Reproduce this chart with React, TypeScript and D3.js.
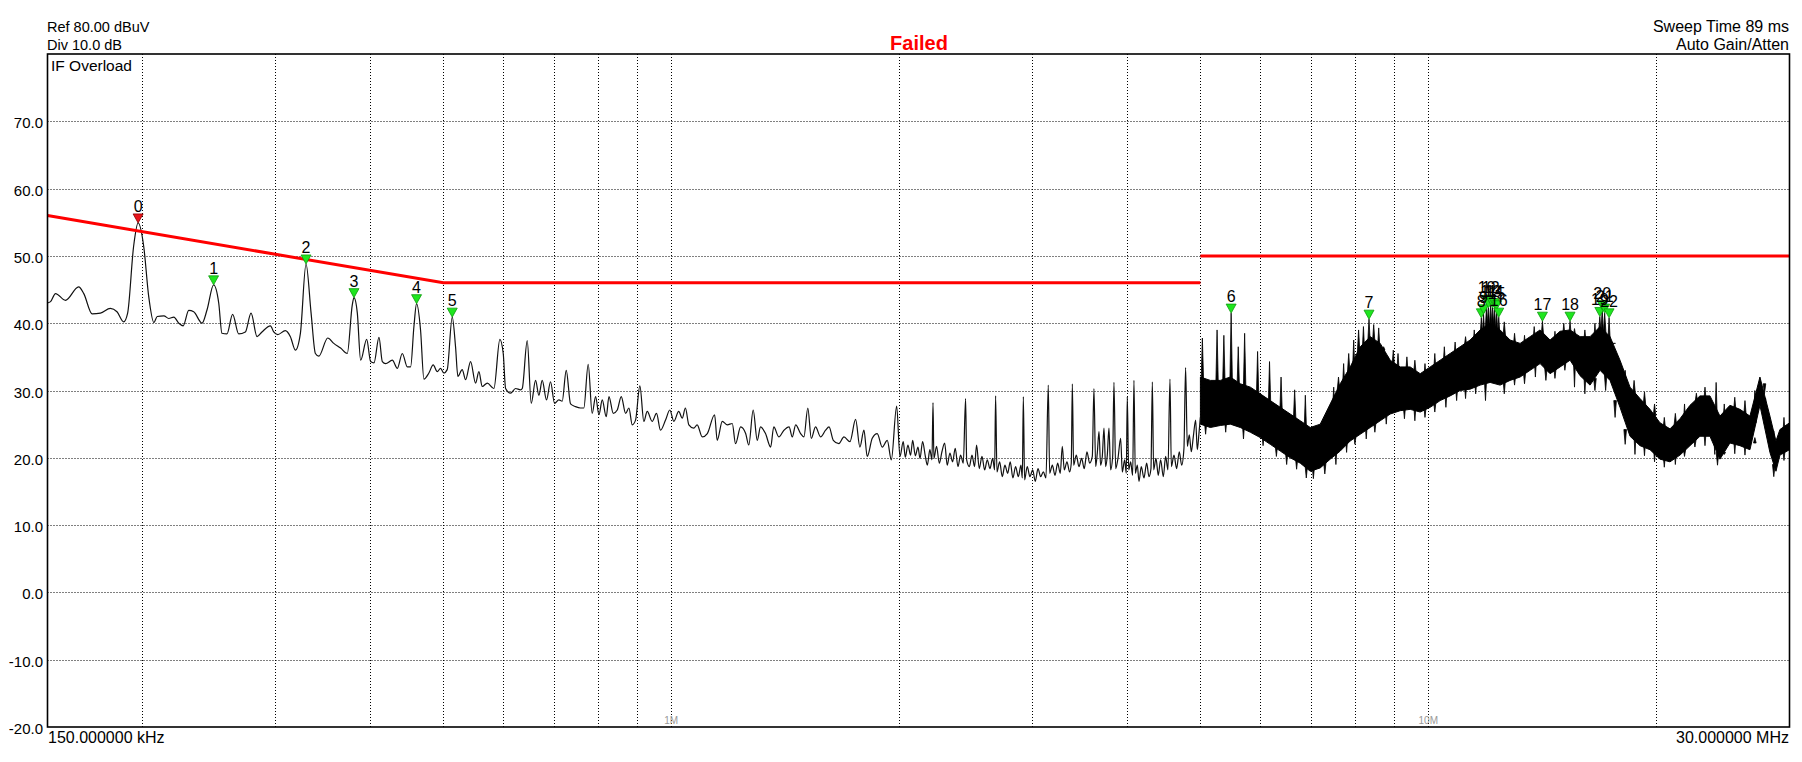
import React, { useRef, useEffect } from "react";
import * as d3 from "d3";

// Trace below 5 MHz: [MHz, dBuV]
const traceLow: [number, number][] = [
  [0.150, 43.0], [0.1514, 43.2], [0.1537, 44.4], [0.1584, 43.4], [0.1649, 45.4], [0.1675, 44.4],
  [0.1718, 41.4], [0.1762, 41.5], [0.1816, 42.2], [0.1853, 41.7], [0.1891, 40.2], [0.1914, 41.5],
  [0.1949, 51.4], [0.1976, 54.9], [0.2010, 51.4], [0.2041, 43.9], [0.2073, 40.1], [0.2094, 41.0],
  [0.2137, 41.1], [0.2169, 40.7], [0.2203, 40.9], [0.2236, 40.0], [0.2266, 39.6], [0.2305, 41.9],
  [0.2340, 41.7], [0.2400, 40.0], [0.2437, 42.0], [0.2486, 45.7], [0.2525, 43.0], [0.2550, 38.5],
  [0.2589, 38.4], [0.2634, 41.3], [0.2683, 38.4], [0.2738, 38.7], [0.2786, 41.5], [0.2837, 38.0],
  [0.2880, 38.7], [0.2955, 39.6], [0.2985, 38.7], [0.3021, 38.3], [0.3092, 38.9], [0.3140, 38.0],
  [0.3188, 36.0], [0.3237, 38.5], [0.3293, 48.8], [0.3344, 41.5], [0.3388, 35.5], [0.3423, 35.1],
  [0.3518, 37.8], [0.3583, 37.0], [0.3658, 36.3], [0.3733, 35.5], [0.3790, 42.7], [0.3810, 43.8],
  [0.3849, 41.5], [0.3888, 34.5], [0.3960, 37.6], [0.4008, 34.3], [0.4049, 34.1], [0.4111, 37.9],
  [0.4153, 34.3], [0.4195, 34.0], [0.4281, 34.5], [0.4347, 33.3], [0.4413, 35.5], [0.4481, 33.5],
  [0.4526, 33.5], [0.4572, 39.5], [0.4609, 42.9], [0.4665, 39.0], [0.4713, 31.7], [0.4785, 32.6],
  [0.4848, 33.8], [0.4908, 32.8], [0.4958, 33.3], [0.5008, 32.6], [0.5059, 33.1], [0.5137, 40.9],
  [0.5189, 36.5], [0.5226, 32.1], [0.5295, 33.1], [0.5350, 31.6], [0.5432, 34.3], [0.5515, 31.1],
  [0.5571, 32.8], [0.5628, 30.6], [0.5715, 31.1], [0.5831, 30.3], [0.5938, 37.6], [0.5999, 35.5],
  [0.6042, 30.3], [0.6134, 29.6], [0.6228, 30.3], [0.6324, 30.1], [0.6356, 30.3], [0.6453, 37.4],
  [0.6532, 28.1], [0.6619, 31.5], [0.6686, 29.3], [0.6754, 31.5], [0.6843, 28.6], [0.6927, 31.3],
  [0.7012, 28.1], [0.7105, 28.6], [0.7177, 28.4], [0.7266, 33.0], [0.7362, 28.0], [0.7474, 27.6],
  [0.7588, 27.4], [0.7665, 27.4], [0.7768, 33.9], [0.7862, 26.6], [0.7945, 29.1], [0.8026, 26.4],
  [0.8107, 28.6], [0.8206, 26.1], [0.8274, 29.1], [0.8383, 26.6], [0.8486, 27.1], [0.8590, 29.1],
  [0.8704, 26.6], [0.8792, 27.4], [0.8881, 24.9], [0.8971, 25.6], [0.9090, 30.7], [0.9201, 25.4],
  [0.9295, 26.9], [0.9437, 25.4], [0.9562, 26.6], [0.9679, 24.1], [0.9828, 25.6], [0.9957, 27.1],
  [1.008, 25.4], [1.023, 26.9], [1.034, 25.9], [1.044, 27.4], [1.055, 24.9], [1.071, 24.4],
  [1.082, 24.9], [1.099, 23.1], [1.116, 23.6], [1.141, 26.4], [1.150, 22.6], [1.168, 25.4],
  [1.186, 24.9], [1.204, 25.1], [1.216, 22.1], [1.235, 24.6], [1.254, 23.6], [1.266, 21.9],
  [1.283, 27.1], [1.299, 22.6], [1.312, 24.6], [1.332, 23.6], [1.353, 21.6], [1.366, 24.6],
  [1.387, 23.1], [1.409, 24.1], [1.431, 24.6], [1.445, 23.1], [1.460, 24.9], [1.482, 23.6],
  [1.497, 23.1], [1.515, 27.4], [1.531, 22.9], [1.551, 24.6], [1.575, 23.1], [1.599, 24.1],
  [1.616, 24.6], [1.637, 22.6], [1.665, 22.1], [1.691, 23.1], [1.722, 22.4], [1.752, 25.7],
  [1.775, 21.6], [1.797, 24.1], [1.815, 20.2], [1.843, 22.9], [1.871, 23.6], [1.900, 21.6],
  [1.929, 22.6], [1.953, 19.7], [1.985, 27.7], [2.005, 20.2], [2.025, 22.4], [2.038, 20.1],
  [2.054, 21.9], [2.071, 20.4], [2.084, 22.6], [2.101, 20.3], [2.118, 21.6], [2.131, 19.9],
  [2.148, 22.4], [2.166, 20.2], [2.179, 18.9], [2.196, 21.2], [2.210, 19.7], [2.217, 28.2],
  [2.223, 19.9], [2.241, 21.7], [2.260, 19.2], [2.278, 20.9], [2.297, 22.2], [2.315, 18.9],
  [2.334, 20.7], [2.353, 19.4], [2.372, 21.4], [2.392, 18.7], [2.411, 20.4], [2.431, 19.2],
  [2.448, 28.8], [2.456, 19.7], [2.476, 18.7], [2.496, 20.4], [2.516, 18.7], [2.531, 21.9],
  [2.552, 18.4], [2.573, 20.2], [2.594, 18.2], [2.615, 19.7], [2.636, 18.4], [2.658, 19.9],
  [2.674, 18.2], [2.682, 29.2], [2.693, 17.9], [2.715, 19.4], [2.737, 17.2], [2.759, 18.9],
  [2.782, 17.7], [2.804, 19.4], [2.827, 17.0], [2.850, 18.7], [2.874, 17.2], [2.897, 18.9],
  [2.909, 17.0], [2.918, 29.1], [2.929, 16.7], [2.953, 18.7], [2.977, 17.2], [3.002, 18.2],
  [3.026, 16.5], [3.051, 18.4], [3.076, 17.2], [3.101, 17.9], [3.126, 17.0], [3.148, 30.8],
  [3.161, 17.7], [3.187, 18.9], [3.213, 17.4], [3.239, 19.2], [3.265, 17.7], [3.285, 21.7],
  [3.305, 18.2], [3.332, 19.4], [3.359, 17.9], [3.376, 19.2], [3.387, 31.0], [3.400, 18.9],
  [3.428, 20.4], [3.456, 18.7], [3.484, 19.9], [3.512, 18.4], [3.541, 20.9], [3.570, 19.2],
  [3.599, 20.2], [3.617, 30.3], [3.636, 18.7], [3.654, 20.7], [3.673, 23.9], [3.691, 18.9],
  [3.710, 20.2], [3.729, 24.4], [3.748, 18.7], [3.767, 20.4], [3.786, 24.4], [3.805, 18.2],
  [3.829, 20.2], [3.844, 31.2], [3.864, 18.4], [3.891, 19.9], [3.923, 22.9], [3.943, 17.9],
  [3.971, 19.7], [3.991, 17.7], [4.003, 29.1], [4.020, 18.2], [4.044, 19.4], [4.069, 17.4],
  [4.085, 31.5], [4.102, 17.7], [4.127, 18.9], [4.148, 16.5], [4.177, 18.7], [4.211, 17.0],
  [4.246, 19.2], [4.276, 17.2], [4.302, 18.4], [4.320, 31.3], [4.337, 18.2], [4.368, 19.9],
  [4.399, 17.4], [4.430, 19.7], [4.467, 17.2], [4.498, 20.2], [4.530, 18.2], [4.558, 31.7],
  [4.577, 18.7], [4.614, 20.4], [4.651, 18.4], [4.689, 20.9], [4.723, 18.9], [4.756, 21.4],
  [4.780, 33.4], [4.805, 21.7], [4.834, 23.4], [4.864, 20.9], [4.893, 23.1], [4.928, 25.6],
  [4.953, 21.2], [4.978, 23.6], [5.0, 26.0],
];

// Dense part above 5 MHz: core of the band the trace fills
const bandFreq = [
  5.0, 5.153, 5.312, 5.476, 5.645, 5.82, 5.999, 6.184, 6.375, 6.572, 6.775, 6.984, 7.199, 7.421,
  7.65, 7.886, 8.13, 8.381, 8.639, 8.906, 9.181, 9.464, 9.756, 10.057, 10.367, 10.687, 11.017,
  11.357, 11.708, 12.069, 12.441, 12.825, 13.221, 13.629, 14.05, 14.483, 14.93, 15.391, 15.866,
  16.355, 16.86, 17.38, 17.917, 18.47, 19.04, 19.628, 20.233, 20.858, 21.501, 22.165, 22.849,
  23.554, 24.281, 25.03, 25.803, 26.599, 27.42, 28.266, 28.79, 29.139, 30.0,
];
const bandTop = [
  32.0, 31.5, 31.5, 32.0, 31.0, 30.5, 29.5, 28.5, 27.5, 26.5, 25.5, 24.5, 25.0, 28.0,
  31.0, 33.5, 36.5, 38.0, 37.0, 34.5, 33.5, 33.5, 32.5, 33.5, 34.5, 35.5, 36.5,
  37.5, 39.0, 40.0, 39.0, 37.5, 37.0, 38.0, 39.0, 37.5, 38.8, 39.0, 38.0,
  38.0, 39.5, 38.0, 34.5, 30.5, 28.8, 27.2, 25.2, 24.3, 25.8, 27.8, 29.2,
  29.2, 26.2, 27.8, 27.2, 26.2, 32.0, 26.2, 22.5, 24.2, 25.2,
];
const bandBottom = [
  25.0, 24.5, 24.8, 25.0, 24.5, 23.8, 23.0, 22.0, 21.0, 20.0, 19.2, 18.0, 18.5, 19.8,
  21.0, 22.5, 23.5, 24.5, 25.5, 26.5, 27.0, 27.2, 26.8, 27.5, 28.5, 29.2, 30.0,
  30.2, 30.8, 31.2, 30.8, 31.5, 32.0, 33.0, 34.0, 32.5, 33.5, 34.5, 32.2,
  30.8, 33.0, 31.5, 27.5, 23.2, 21.8, 21.2, 19.8, 19.4, 20.4, 21.8, 23.2,
  23.2, 19.8, 22.2, 21.8, 21.2, 27.8, 20.8, 18.0, 20.4, 21.2,
];

// Peaks standing out of the band
const spikeFreq = [
  5.03, 5.26, 5.37, 5.49, 5.61, 5.72, 5.95, 6.17, 6.39, 6.66, 6.88, 7.5, 7.61, 7.73, 7.85, 7.97,
  8.09, 8.21, 8.35, 8.47, 8.6, 8.73, 8.86, 8.99, 9.12, 9.37, 9.6, 9.9, 10.2, 10.5, 10.85, 11.2,
  11.5, 11.75, 11.83, 11.94, 12.01, 12.09, 12.16, 12.23, 12.31, 12.39, 12.6, 13.0, 13.4, 13.8,
  14.15, 14.7, 15.1, 15.39, 15.6, 16.1, 16.6, 16.85, 16.97, 17.1, 17.33, 17.6, 18.2, 18.7, 19.3,
  19.9, 20.5, 21.2, 21.8, 22.6, 23.2, 24.0, 24.6, 25.4, 26.2, 27.0, 27.8, 28.6, 29.5,
];
const spikeLevel = [
  37.8, 39.0, 38.2, 41.5, 36.5, 38.5, 35.8, 34.3, 32.0, 30.1, 29.3, 30.5, 32.0, 34.0, 35.5, 37.5,
  39.0, 39.5, 40.6, 39.8, 39.3, 36.5, 35.0, 36.0, 35.5, 35.0, 34.5, 34.0, 35.5, 36.5, 37.2, 38.0,
  39.0, 40.8, 41.4, 42.8, 42.3, 42.8, 42.3, 42.3, 42.0, 40.9, 40.2, 38.5, 38.2, 39.5,
  40.3, 38.8, 40.0, 40.3, 39.2, 39.0, 40.0, 41.0, 42.0, 41.5, 40.8, 37.0, 33.0, 31.5, 29.8,
  28.0, 26.0, 26.6, 28.0, 29.6, 30.5, 31.2, 28.0, 29.0, 28.5, 30.0, 29.5, 24.0, 26.0,
];

// Troughs dropping below the band
const dipFreq = [
  5.08, 5.4, 5.7, 6.05, 6.3, 6.5, 6.7, 6.9, 7.05, 7.3, 7.55, 7.8, 8.0, 8.28, 8.5, 8.8, 9.3, 9.6,
  9.9, 10.2, 10.55, 10.9, 11.2, 11.55, 11.9, 12.6, 13.0, 13.4, 13.85, 14.3, 14.7, 15.15, 15.6,
  16.1, 16.6, 17.15, 17.65, 18.2, 18.75, 19.3, 19.9, 20.5, 21.2, 21.8, 22.5, 23.2, 23.9, 24.1,
  24.6, 25.4, 26.2, 27.0, 27.8, 28.6, 29.5,
];
const dipLevel = [
  23.5, 23.8, 22.8, 21.8, 20.2, 19.0, 18.3, 17.0, 16.9, 17.6, 19.0, 20.8, 22.0, 22.8, 23.8, 25.0,
  25.8, 25.5, 26.0, 26.8, 27.5, 28.5, 28.8, 29.5, 28.5, 29.5, 30.8, 31.0, 32.0, 31.5, 31.8, 33.0,
  30.5, 29.5, 30.0, 30.0, 26.0, 22.0, 20.5, 20.3, 19.4, 18.6, 19.0, 20.2, 21.6, 21.8, 20.5, 18.9,
  20.5, 20.6, 20.4, 23.0, 25.0, 17.2, 19.6,
];

// Limit line (two pieces)
const limitA: [number, number][] = [[0.15, 56], [0.5, 46], [5, 46]];
const limitB: [number, number][] = [[5, 50], [30, 50]];

// Markers
const markerId = [0, 1, 2, 3, 4, 5, 6, 7, 8, 9, 10, 11, 12, 13, 14, 15, 16, 17, 18, 19, 20, 21, 22];
const markerFreq = [
  0.1976, 0.2486, 0.3293, 0.381, 0.4609, 0.5137, 5.49, 8.35, 11.75, 11.83, 11.94, 12.01, 12.09,
  12.16, 12.23, 12.31, 12.39, 14.15, 15.39, 16.85, 16.97, 17.1, 17.33,
];
const markerLevel = [
  54.9, 45.7, 48.8, 43.8, 42.9, 40.9, 41.5, 40.6, 40.8, 41.4, 42.8, 42.3, 42.8,
  42.3, 42.3, 42.0, 40.9, 40.3, 40.3, 41.0, 42.0, 41.5, 40.8,
];
const failedMarkers = [0];

// Axes
const levelTicks = [70, 60, 50, 40, 30, 20, 10, 0, -10, -20];
const freqGrid = [0.2, 0.3, 0.4, 0.5, 0.6, 0.7, 0.8, 0.9, 1, 2, 3, 4, 5, 6, 7, 8, 9, 10, 20];
const decadeLabels: [number, string][] = [[1, "1M"], [10, "10M"]];

const W = 1802;
const H = 762;
const FONT = "'Liberation Sans', Arial, sans-serif";

const App: React.FC = () => {
  const svgRef = useRef<SVGSVGElement | null>(null);

  useEffect(() => {
    if (!svgRef.current) return;
    const svg = d3.select(svgRef.current);
    svg.selectAll("*").remove();

    const plot = { left: 47.5, right: 1789.5, top: 54, bottom: 727 };
    const x = d3.scaleLog().domain([0.15, 30]).range([plot.left, plot.right]);
    const y = d3.scaleLinear().domain([-20, 80]).range([plot.bottom, plot.top]);

    svg.append("rect").attr("width", W).attr("height", H).attr("fill", "#fff");

    svg
      .append("clipPath")
      .attr("id", "plotClip")
      .append("rect")
      .attr("x", plot.left)
      .attr("y", plot.top)
      .attr("width", plot.right - plot.left)
      .attr("height", plot.bottom - plot.top);

    // Grid
    const grid = svg.append("g").attr("stroke", "#000").attr("stroke-dasharray", "1,2");
    grid
      .selectAll("line.v")
      .data(freqGrid)
      .enter()
      .append("line")
      .attr("x1", (d) => Math.round(x(d)) + 0.5)
      .attr("x2", (d) => Math.round(x(d)) + 0.5)
      .attr("y1", plot.top)
      .attr("y2", plot.bottom);
    grid
      .selectAll("line.h")
      .data(levelTicks.filter((d) => d > -20))
      .enter()
      .append("line")
      .attr("x1", plot.left)
      .attr("x2", plot.right)
      .attr("y1", (d) => Math.round(y(d)) + 0.5)
      .attr("y2", (d) => Math.round(y(d)) + 0.5);

    // Decade labels
    svg
      .selectAll("text.dec")
      .data(decadeLabels)
      .enter()
      .append("text")
      .attr("x", (d) => x(d[0]))
      .attr("y", plot.bottom - 3)
      .attr("text-anchor", "middle")
      .attr("font-family", FONT)
      .attr("font-size", 10)
      .attr("fill", "#9a9a9a")
      .text((d) => d[1]);

    const g = svg.append("g").attr("clip-path", "url(#plotClip)");

    // Band above 5 MHz
    const band = bandFreq.map((f, i) => ({ f, top: bandTop[i], bot: bandBottom[i] }));
    g.append("path")
      .datum(band)
      .attr(
        "d",
        d3
          .area<{ f: number; top: number; bot: number }>()
          .x((d) => x(d.f))
          .y0((d) => y(d.bot))
          .y1((d) => y(d.top))
      )
      .attr("fill", "#000")
      .attr("stroke", "#000")
      .attr("stroke-width", 1);

    // Peaks and troughs leaving the band
    const near = d3.bisector((d: number) => d).center;
    const needle = (f: number, base: number, tip: number) => {
      const cx = x(f);
      return `M${cx - 1.3},${y(base)}L${cx},${y(tip)}L${cx + 1.3},${y(base)}Z`;
    };
    g.selectAll("path.spike")
      .data(spikeFreq.map((f, i) => ({ f, v: spikeLevel[i] })))
      .enter()
      .append("path")
      .attr("d", (d) => needle(d.f, bandTop[near(bandFreq, d.f)] - 1, d.v))
      .attr("fill", "#000")
      .attr("stroke", "#000")
      .attr("stroke-width", 0.8);
    g.selectAll("path.dip")
      .data(dipFreq.map((f, i) => ({ f, v: dipLevel[i] })))
      .enter()
      .append("path")
      .attr("d", (d) => needle(d.f, bandBottom[near(bandFreq, d.f)] + 1, d.v))
      .attr("fill", "#000")
      .attr("stroke", "#000")
      .attr("stroke-width", 0.8);

    // Trace below 5 MHz
    g.append("path")
      .datum(traceLow)
      .attr(
        "d",
        d3
          .line<[number, number]>()
          .x((d) => x(d[0]))
          .y((d) => y(d[1]))
          .curve(d3.curveMonotoneX)
      )
      .attr("fill", "none")
      .attr("stroke", "#111")
      .attr("stroke-width", 1.2);

    // Limit line
    const lim = d3
      .line<[number, number]>()
      .x((d) => x(d[0]))
      .y((d) => y(d[1]));
    [limitA, limitB].forEach((seg) => {
      g.append("path")
        .datum(seg)
        .attr("d", lim)
        .attr("fill", "none")
        .attr("stroke", "#ff0000")
        .attr("stroke-width", 3);
    });

    // Markers
    const markers = markerId.map((id, i) => ({ id, f: markerFreq[i], v: markerLevel[i] }));
    const mk = svg.append("g");
    mk.selectAll("path.mk")
      .data(markers)
      .enter()
      .append("path")
      .attr("d", (d) => {
        const cx = x(d.f);
        const ty = y(d.v);
        return `M${cx - 5},${ty - 9}L${cx + 5},${ty - 9}L${cx},${ty}Z`;
      })
      .attr("fill", (d) => (failedMarkers.includes(d.id) ? "#e8141b" : "#1ee61e"))
      .attr("stroke", (d) => (failedMarkers.includes(d.id) ? "#8a0000" : "#0e9a0e"))
      .attr("stroke-width", 0.8);
    mk.selectAll("text.mk")
      .data(markers)
      .enter()
      .append("text")
      .attr("x", (d) => x(d.f))
      .attr("y", (d) => y(d.v) - 11)
      .attr("text-anchor", "middle")
      .attr("font-family", FONT)
      .attr("font-size", 16)
      .attr("fill", "#000")
      .text((d) => d.id);

    // Frame
    svg
      .append("rect")
      .attr("x", plot.left)
      .attr("y", plot.top)
      .attr("width", plot.right - plot.left)
      .attr("height", plot.bottom - plot.top)
      .attr("fill", "none")
      .attr("stroke", "#000")
      .attr("stroke-width", 1.6);

    // Level labels
    svg
      .selectAll("text.lv")
      .data(levelTicks)
      .enter()
      .append("text")
      .attr("x", 43)
      .attr("y", (d) => y(d) + 7)
      .attr("text-anchor", "end")
      .attr("font-family", FONT)
      .attr("font-size", 15)
      .text((d) => d.toFixed(1));

    const label = (tx: number, ty: number, s: string, size: number, anchor = "start") =>
      svg
        .append("text")
        .attr("x", tx)
        .attr("y", ty)
        .attr("text-anchor", anchor)
        .attr("font-family", FONT)
        .attr("font-size", size)
        .text(s);

    label(47, 32, "Ref 80.00 dBuV", 14.5);
    label(47, 50, "Div 10.0 dB", 14.5);
    label(1789, 32, "Sweep Time 89 ms", 16, "end");
    label(1789, 50, "Auto Gain/Atten", 16, "end");
    label(51, 71, "IF Overload", 15.5);
    label(48, 743, "150.000000 kHz", 16);
    label(1789, 743, "30.000000 MHz", 16, "end");

    svg
      .append("text")
      .attr("x", 919)
      .attr("y", 50)
      .attr("text-anchor", "middle")
      .attr("font-family", FONT)
      .attr("font-size", 20)
      .attr("font-weight", "bold")
      .attr("fill", "#ff0000")
      .text("Failed");

    return () => {
      svg.selectAll("*").remove();
    };
  }, []);

  return (
    <svg
      ref={svgRef}
      width={W}
      height={H}
      style={{ position: "absolute", left: 0, top: 0, display: "block" }}
    />
  );
};

export default App;
